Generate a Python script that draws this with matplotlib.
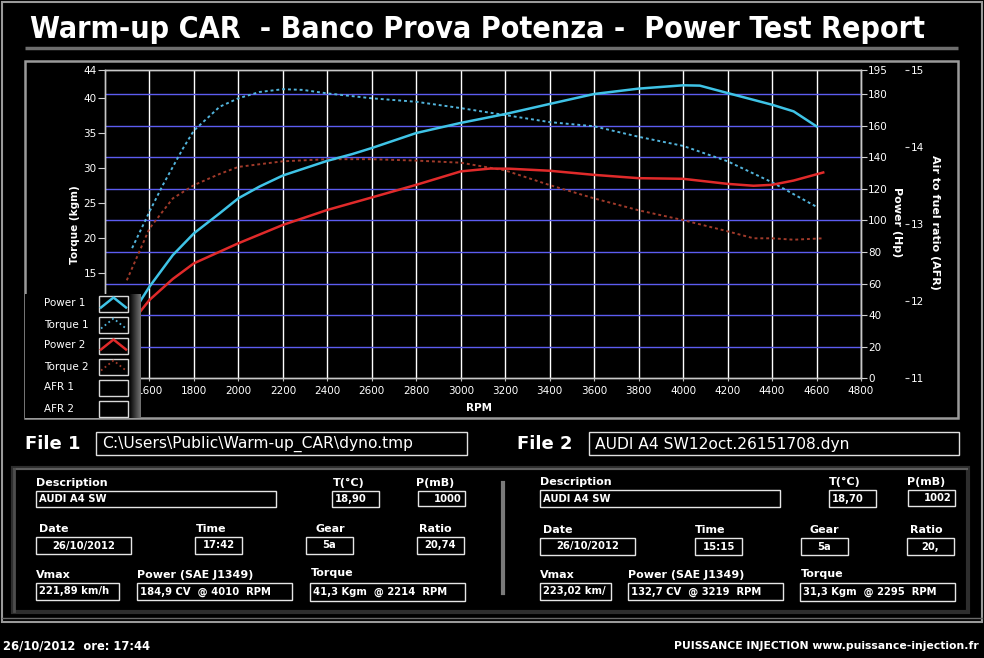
import matplotlib
matplotlib.use('Agg')
import matplotlib.pyplot as plt
from matplotlib.patches import Rectangle
from matplotlib.transforms import blended_transform_factory
import numpy as np

W, H = 984, 658

# ---- curve data (read from the dyno sheet) ----
rpm_power1 = [1522, 1562, 1600, 1705, 1800, 1916, 2000, 2095, 2200, 2400, 2513, 2600,
              2800, 3000, 3200, 3400, 3600, 3800, 4000, 4075, 4200, 4400, 4497, 4600]
power1 = [40.0, 49.6, 58.0, 78.0, 91.8, 104.5, 114.0, 121.4, 128.4, 137.7, 142.0, 145.8,
          155.3, 161.7, 167.3, 173.7, 180.0, 183.4, 185.5, 185.3, 180.6, 173.2, 169.0, 159.5]

rpm_torque1 = [1522, 1600, 1660, 1750, 1800, 1916, 2000, 2095, 2200, 2290, 2400, 2600,
               2800, 3000, 3200, 3400, 3600, 3800, 4000, 4200, 4400, 4600]
torque1 = [18.6, 23.8, 27.6, 32.8, 35.4, 38.8, 40.0, 40.9, 41.3, 41.2, 40.7, 40.0,
           39.5, 38.6, 37.6, 36.6, 36.0, 34.5, 33.2, 31.0, 28.0, 24.5]

rpm_power2 = [1498, 1558, 1600, 1705, 1800, 2000, 2200, 2400, 2600, 2800, 3000, 3133,
              3219, 3400, 3600, 3800, 4000, 4200, 4317, 4400, 4497, 4630]
power2 = [30.0, 42.2, 49.6, 62.9, 72.8, 85.5, 97.1, 106.6, 114.5, 122.5, 131.0, 132.8,
          132.7, 131.4, 128.8, 126.7, 126.3, 123.1, 121.9, 122.5, 125.2, 130.3]

rpm_torque2 = [1498, 1600, 1705, 1800, 1916, 2000, 2200, 2400, 2600, 2800, 3000, 3200,
               3400, 3600, 3800, 4000, 4200, 4317, 4400, 4497, 4630]
torque2 = [14.0, 21.4, 25.7, 27.6, 29.2, 30.2, 31.0, 31.3, 31.3, 31.1, 30.8, 29.7,
           27.6, 25.7, 24.0, 22.6, 21.0, 20.0, 20.0, 19.8, 20.0]

rpm_ticks = list(range(1600, 4801, 200))
torque_ticks = [0, 5, 10, 15, 20, 25, 30, 35, 40, 44]
power_ticks = [0, 20, 40, 60, 80, 100, 120, 140, 160, 180, 195]
power_grid = [20, 40, 60, 80, 100, 120, 140, 160, 180]
afr_ticks = [11, 12, 13, 14, 15]

legend_labels = ['Power 1', 'Torque 1', 'Power 2', 'Torque 2', 'AFR 1', 'AFR 2']

title = 'Warm-up CAR  - Banco Prova Potenza -  Power Test Report'
file_names = ['C:\\Users\\Public\\Warm-up_CAR\\dyno.tmp', 'AUDI A4 SW12oct.26151708.dyn']
descriptions = ['AUDI A4 SW', 'AUDI A4 SW']
temps = ['18,90', '18,70']
pressures = ['1000', '1002']
dates = ['26/10/2012', '26/10/2012']
times = ['17:42', '15:15']
gears = ['5a', '5a']
ratios = ['20,74', '20,']
vmax = ['221,89 km/h', '223,02 km/']
power_max = ['184,9 CV  @ 4010  RPM', '132,7 CV  @ 3219  RPM']
torque_max = ['41,3 Kgm  @ 2214  RPM', '31,3 Kgm  @ 2295  RPM']
footer_left = '26/10/2012  ore: 17:44'
footer_right = 'PUISSANCE INJECTION www.puissance-injection.fr'

C_P1 = '#3fc3e6'
C_T1 = '#52b4dc'
C_P2 = '#e02a2a'
C_T2 = '#a03a2a'
GRID_H = '#5c5cf0'
FG = 'white'


def fig_rect(x0, y0, x1, y1):
    return [x0 / W, 1 - y1 / H, (x1 - x0) / W, (y1 - y0) / H]


fig = plt.figure(figsize=(W / 100, H / 100), dpi=100, facecolor='black')

# overlay in pixel coordinates for frames and the info panel
bg = fig.add_axes([0, 0, 1, 1])
bg.set_xlim(0, W)
bg.set_ylim(H, 0)
bg.axis('off')
bg.set_zorder(0)

bg.add_patch(Rectangle((2, 2), 980, 620, fill=False, ec='#9a9a9a', lw=1.5))
bg.plot([2, 982], [618, 618], color='#6a6a6a', lw=1)
bg.plot([25, 958], [48, 48], color='#6e6e6e', lw=2.5, solid_capstyle='butt')
bg.add_patch(Rectangle((25, 61), 933, 357, fill=False, ec='#9a9a9a', lw=1.8))

t = bg.text(30, 38, title, color=FG, fontsize=21, fontweight='bold',
            family=['Liberation Sans Narrow', 'DejaVu Sans'], fontstretch='condensed',
            va='baseline', ha='left')
r = fig.canvas.get_renderer()
w = t.get_window_extent(r).width
t.set_fontsize(21 * 895 / w)

# ---- main chart ----
ax = fig.add_axes(fig_rect(105, 70.3, 861, 378.3))
ax.set_zorder(2)
ax.set_facecolor('black')
ax2 = ax.twinx()
ax2.set_zorder(3)
ax3 = ax.twinx()
ax3.set_zorder(3)

ax.set_xlim(1400, 4800)
ax.set_ylim(0, 44)
ax2.set_ylim(0, 195)
ax3.set_ylim(11, 15)

for xv in rpm_ticks:
    ax.axvline(xv, color='white', lw=1, zorder=1)
hl = blended_transform_factory(ax.transAxes, ax2.transData)
for yv in power_grid:
    ax.plot([0, 1], [yv, yv], transform=hl, color=GRID_H, lw=1, zorder=1)

ax.plot(rpm_torque1, torque1, color=C_T1, lw=1.4, dashes=(1.5, 1.5), zorder=3)
ax.plot(rpm_torque2, torque2, color=C_T2, lw=1.4, dashes=(1.5, 1.5), zorder=3)
ax2.plot(rpm_power1, power1, color=C_P1, lw=1.8, zorder=3)
ax2.plot(rpm_power2, power2, color=C_P2, lw=1.8, zorder=3)

ax.set_xticks(rpm_ticks)
ax.set_yticks(torque_ticks)
ax2.set_yticks(power_ticks)
ax3.set_yticks(afr_ticks)
ax.tick_params(axis='x', colors='#c0c0c0', labelcolor=FG, labelsize=7.5, length=2.5, pad=3)
ax.tick_params(axis='y', colors='#d0d0d0', labelcolor=FG, labelsize=7.5, length=5, pad=1)
ax2.tick_params(axis='y', colors='#d0d0d0', labelcolor=FG, labelsize=7.5, length=4, pad=1)
ax3.tick_params(axis='y', colors='#d0d0d0', labelcolor=FG, labelsize=7.5, length=3, pad=1)
ax3.spines['right'].set_position(('outward', 32))
for a in (ax, ax2, ax3):
    for s in a.spines.values():
        s.set_color('#c8c8c8')
        s.set_linewidth(1)
for s in ax3.spines.values():
    s.set_visible(False)

bg.text(75, 225, 'Torque (kgm)', color=FG, fontsize=7.5, fontweight='bold',
        rotation=90, ha='center', va='center')
bg.text(897, 222, 'Power (Hp)', color=FG, fontsize=8, fontweight='bold',
        rotation=270, ha='center', va='center')
bg.text(935, 222, 'Air to fuel ratio (AFR)', color=FG, fontsize=8, fontweight='bold',
        rotation=270, ha='center', va='center')
bg.text(479, 408, 'RPM', color=FG, fontsize=7.5, fontweight='bold', ha='center', va='center')

# ---- legend block ----
lg = fig.add_axes(fig_rect(25, 294, 141, 418))
lg.set_zorder(5)
lg.set_xlim(0, 116)
lg.set_ylim(124, 0)
lg.set_facecolor('black')
lg.axis('off')
lg.add_patch(Rectangle((0, 0), 116, 124, color='black', zorder=0))
lg.imshow(np.linspace(0, 0.45, 24).reshape(1, -1), cmap='gray', vmin=0, vmax=1,
          extent=(104, 116, 124, 0), aspect='auto', zorder=1)
styles = [(C_P1, '-'), (C_T1, ':'), (C_P2, '-'), (C_T2, ':'), (None, None), (None, None)]
for i, lab in enumerate(legend_labels):
    yc = 9.5 + i * 21
    lg.text(19, yc, lab, color=FG, fontsize=7.5, ha='left', va='center')
    lg.add_patch(Rectangle((74, yc - 8), 29, 16, fill=False, ec='#d8d8d8', lw=1, zorder=2))
    col, ls = styles[i]
    if col:
        lg.plot([76, 88.5, 101], [yc + 4, yc - 6, yc + 4], color=col,
                lw=1.8 if ls == '-' else 1.3, linestyle=ls, zorder=3)

# ---- file headers ----
bg.text(25, 444, 'File 1', color=FG, fontsize=13, fontweight='bold', ha='left', va='center')
bg.text(517, 444, 'File 2', color=FG, fontsize=13, fontweight='bold', ha='left', va='center')
for i, (x0, x1) in enumerate([(96, 467), (589, 959)]):
    bg.add_patch(Rectangle((x0, 432), x1 - x0, 23, fill=False, ec='#e0e0e0', lw=1))
    bg.text(x0 + 6, 444, file_names[i], color=FG, fontsize=11.2, ha='left', va='center')

# info panel frame (bevelled look)
bg.add_patch(Rectangle((13, 468), 955, 144, fill=False, ec='#2e2e2e', lw=3))
bg.plot([14, 967], [469, 469], color='#5e5e5e', lw=1.5)
bg.plot([14, 14], [469, 611], color='#4e4e4e', lw=2)
bg.plot([503, 503], [483, 593], color='#7a7a7a', lw=3)


def field(label, value, lx, ly, bx0, bx1, by0, by1, align='left'):
    bg.text(lx, ly, label, color=FG, fontsize=8, fontweight='bold', ha='left', va='center')
    bg.add_patch(Rectangle((bx0, by0), bx1 - bx0, by1 - by0, fill=False, ec='#e6e6e6', lw=1))
    yc = (by0 + by1) / 2
    if align == 'left':
        bg.text(bx0 + 3, yc, value, color=FG, fontsize=7.2, fontweight='bold', ha='left', va='center')
    elif align == 'right':
        bg.text(bx1 - 3, yc, value, color=FG, fontsize=7.2, fontweight='bold', ha='right', va='center')
    else:
        bg.text((bx0 + bx1) / 2, yc, value, color=FG, fontsize=7.2, fontweight='bold',
                ha='center', va='center')


# file 1 fields
field('Description', descriptions[0], 36, 483, 36, 276, 491, 507)
field('T(°C)', temps[0], 333, 483, 332, 379, 491, 507)
field('P(mB)', pressures[0], 416, 483, 418, 465, 491, 506, 'right')
field('Date', dates[0], 39, 529, 36, 131, 537, 554, 'center')
field('Time', times[0], 196, 529, 195, 242, 537, 554, 'center')
field('Gear', gears[0], 315, 529, 306, 353, 537, 554, 'center')
field('Ratio', ratios[0], 419, 529, 417, 464, 537, 554, 'center')
field('Vmax', vmax[0], 36, 575, 36, 119, 583, 600)
field('Power (SAE J1349)', power_max[0], 137, 575, 137, 292, 583, 600)
field('Torque', torque_max[0], 311, 573, 310, 465, 583, 601)

# file 2 fields
field('Description', descriptions[1], 540, 482, 540, 780, 490, 507)
field('T(°C)', temps[1], 829, 482, 829, 876, 490, 507)
field('P(mB)', pressures[1], 907, 482, 908, 955, 490, 506, 'right')
field('Date', dates[1], 543, 530, 540, 635, 538, 555, 'center')
field('Time', times[1], 695, 530, 695, 742, 538, 555, 'center')
field('Gear', gears[1], 810, 530, 801, 848, 538, 555, 'center')
field('Ratio', ratios[1], 910, 530, 907, 954, 538, 555, 'center')
field('Vmax', vmax[1], 540, 575, 540, 611, 583, 600)
field('Power (SAE J1349)', power_max[1], 628, 575, 628, 783, 583, 600)
field('Torque', torque_max[1], 801, 574, 800, 955, 583, 601)

# footer
bg.text(3, 646, footer_left, color=FG, fontsize=8.3, fontweight='bold', ha='left', va='center')
bg.text(979, 646, footer_right, color=FG, fontsize=7.8, fontweight='bold', ha='right', va='center')

fig.savefig('out.png', dpi=100, facecolor='black')
